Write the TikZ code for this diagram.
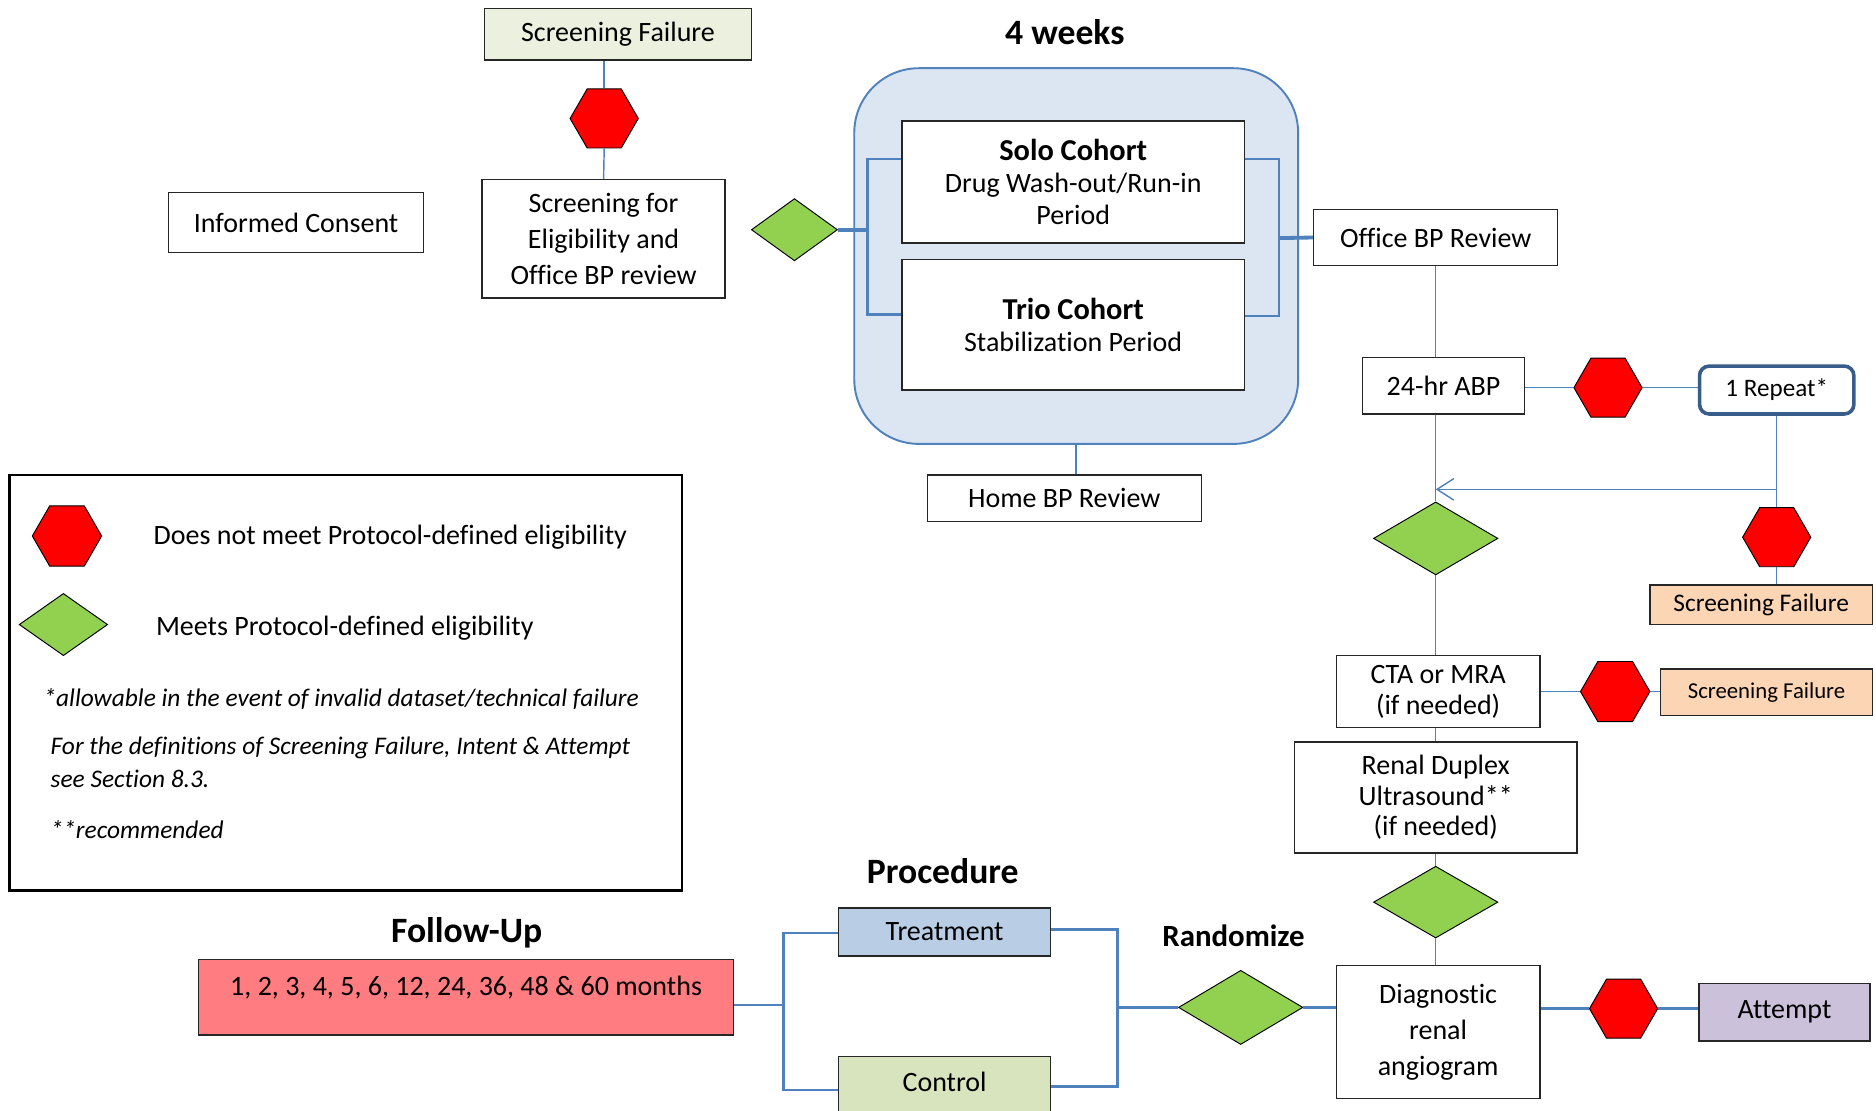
\documentclass[tikz,border=0pt]{standalone}
\usepackage{fontspec}
\setmainfont{Carlito}[Ligatures=NoCommon]
\usetikzlibrary{shapes.geometric,arrows.meta}
\definecolor{linkblue}{HTML}{4F81BD}
\definecolor{weekfill}{HTML}{DCE6F2}
\definecolor{repblue}{HTML}{385D8A}
\definecolor{hexred}{HTML}{FF0000}
\definecolor{okgreen}{HTML}{92D050}
\definecolor{sfgreen}{HTML}{EBF1DE}
\definecolor{sfpeach}{HTML}{FCD5B5}
\definecolor{attlilac}{HTML}{CCC1DA}
\definecolor{trtblue}{HTML}{B9CDE5}
\definecolor{ctlgreen}{HTML}{D7E4BD}
\definecolor{fupink}{HTML}{FF7C80}
\begin{document}
\begin{tikzpicture}[x=0.5pt,y=-0.5pt]
\tikzstyle{every node}+=[inner sep=0pt, font=\fontsize{11.7}{15}\selectfont]
\tikzstyle{box}=[draw=black!85, line width=0.6pt, fill=white, align=center]
\tikzstyle{stop}=[regular polygon, regular polygon sides=6, minimum size=28.5pt, draw=black, line width=0.4pt, fill=hexred]
\tikzstyle{pass}=[diamond, minimum width=52pt, minimum height=30.5pt, draw=black, line width=0.4pt, fill=okgreen]
\tikzstyle{title}=[font=\fontsize{14.9}{18}\selectfont\bfseries]
\tikzstyle{note}=[anchor=west, align=left, font=\fontsize{10.6}{14}\selectfont\itshape]
\tikzstyle{link}=[draw=linkblue, line width=0.6pt]
\tikzstyle{midlink}=[draw=linkblue, line width=1pt]
\tikzstyle{thicklink}=[draw=linkblue, line width=1.6pt]
\useasboundingbox (0,0) rectangle (1568,928);
% screening
\node[box, fill=sfgreen, minimum width=111.5pt, minimum height=21.5pt] (sf1) at (516.5,28.5) {Screening Failure};
\node[stop] (hex1) at (505,99) {};
\node[box, minimum width=101.5pt, minimum height=49.5pt] (scr) at (504.5,199.5) {Screening for\\Eligibility and\\Office BP review};
\node[box, minimum width=106.5pt, minimum height=25pt] (ic) at (247.5,186) {Informed Consent};
\node[pass, minimum width=36pt, minimum height=26pt] (dia1) at (664,192) {};
% 4 weeks
\node[title] (wktitle) at (890,27) {4 weeks};
\node[draw=linkblue, line width=0.8pt, fill=weekfill, rounded corners=27pt, minimum width=185.5pt, minimum height=157pt] (wk) at (899.5,214) {};
\node[box, minimum width=143pt, minimum height=51pt, font=\fontsize{11.7}{13.3}\selectfont] (solo) at (897,152) {{\fontsize{12.7}{13.3}\selectfont\bfseries Solo Cohort}\\Drug Wash-out/Run-in\\Period};
\node[box, minimum width=143pt, minimum height=54.5pt, font=\fontsize{11.7}{13.5}\selectfont] (trio) at (897,271.5) {{\fontsize{12.7}{13.5}\selectfont\bfseries Trio Cohort}\\Stabilization Period};
\node[box, minimum width=114.5pt, minimum height=19.5pt] (home) at (889.5,416.5) {Home BP Review};
% eligibility column
\node[box, minimum width=102pt, minimum height=23.5pt] (obp) at (1200,198.5) {Office BP Review};
\node[box, minimum width=67.5pt, minimum height=23.5pt] (abp) at (1206.5,322.5) {24-hr ABP};
\node[stop] (hex2) at (1344,324) {};
\node[draw=repblue, line width=1.5pt, fill=white, rounded corners=4pt, minimum width=64.5pt, minimum height=20pt, font=\fontsize{10.5}{13}\selectfont] (rep) at (1485,326) {1 Repeat*};
\node[stop] (hex3) at (1485,449) {};
\node[box, fill=sfpeach, minimum width=93pt, minimum height=16.5pt, font=\fontsize{10.6}{13}\selectfont] (sf2) at (1472,505.5) {Screening Failure};
\node[pass] (dia2) at (1200,450) {};
\node[box, minimum width=85pt, minimum height=30pt, font=\fontsize{11.7}{13}\selectfont] (cta) at (1202,578) {CTA or MRA\\(if needed)};
\node[stop, minimum size=29pt] (hex4) at (1350,578) {};
\node[box, fill=sfpeach, minimum width=88.5pt, minimum height=19.5pt, font=\fontsize{9.5}{12}\selectfont] (sf3) at (1476.5,578.5) {Screening Failure};
\node[box, minimum width=118pt, minimum height=46.5pt, font=\fontsize{11.7}{12.8}\selectfont] (ren) at (1200,666.5) {Renal Duplex\\Ultrasound**\\(if needed)};
\node[pass, minimum height=30pt] (dia3) at (1200,754) {};
\node[box, minimum width=85pt, minimum height=55.5pt] (diag) at (1202,862.5) {Diagnostic\\renal\\angiogram};
\node[stop] (hex5) at (1357,843) {};
\node[box, fill=attlilac, minimum width=71.5pt, minimum height=24pt] (att) at (1491.5,846) {Attempt};
% procedure and follow-up
\node[pass, minimum height=31pt] (dia4) at (1037,842) {};
\node[font=\fontsize{12.9}{15}\selectfont\bfseries] (randtitle) at (1031,782) {Randomize};
\node[title] (proctitle) at (788,728) {Procedure};
\node[box, fill=trtblue, minimum width=88.5pt, minimum height=20pt] (trt) at (789.5,779) {Treatment};
\node[box, fill=ctlgreen, minimum width=88.5pt, minimum height=26pt, text height=8pt, text depth=5.1pt] (ctl) at (789.5,909) {Control};
\node[title] (futitle) at (390,780) {Follow-Up};
\node[box, fill=fupink, minimum width=223.5pt, minimum height=31.5pt, text height=8pt, text depth=9.3pt] (fu) at (389.5,833.5) {1, 2, 3, 4, 5, 6, 12, 24, 36, 48 \& 60 months};
% legend
\node[draw=black, line width=1.2pt, minimum width=281pt, minimum height=173.5pt] (leg) at (289,570.5) {};
\node[stop, minimum size=29pt] (leghex) at (56,448) {};
\node[pass, minimum width=37pt, minimum height=26pt] (legdia) at (53,522) {};
\node[anchor=west] (legstop) at (128,449) {Does not meet Protocol-defined eligibility};
\node[anchor=west] (legpass) at (130,525) {Meets Protocol-defined eligibility};
\node[note] (note1) at (36,584) {*allowable in the event of invalid dataset/technical failure};
\node[note] (note2) at (42,637) {For the definitions of Screening Failure, Intent \& Attempt\\see Section 8.3.};
\node[note] (note3) at (42,693) {**recommended};
% connectors
\draw[link] (hex1.north) -- (hex1.north |- sf1.south);
\draw[link] (hex1.south) -- (scr.north);
\draw[thicklink] (dia1.east) -- (725,192);
\draw[midlink] (solo.west |- 0,133) -| (725,263) -- (trio.west |- 0,263);
\draw[midlink] (solo.east |- 0,133) -| (1069,264) -- (trio.east |- 0,264);
\draw[thicklink] (1069,199) -- (obp.west);
\draw[link] (wk.south) -- (wk.south |- home.north);
\draw[link] (obp.south) -- (obp.south |- abp.north);
\draw[link] (abp.east |- hex2.west) -- (hex2.west);
\draw[link] (hex2.east) -- (hex2.east -| rep.west);
\draw[link] (rep.south) -- (hex3.north);
\coordinate (back) at (1485,409);
\draw[link, -{Straight Barb[length=7pt,width=9pt]}] (back) -- (back -| dia2.north);
\draw[link] (hex3.south) -- (hex3.south |- sf2.north);
\draw[link] (abp.south -| dia2.north) -- (dia2.north);
\draw[link] (dia2.south) -- (dia2.south |- cta.north);
\draw[link] (cta.east |- hex4.west) -- (hex4.west);
\draw[link] (hex4.east) -- (hex4.east -| sf3.west);
\draw[link] (cta.south -| ren.north) -- (ren.north);
\draw[link] (ren.south) -- (dia3.north);
\draw[link] (dia3.south) -- (dia3.south |- diag.north);
\draw[midlink] (diag.east |- hex5.west) -- (hex5.west);
\draw[midlink] (hex5.east) -- (hex5.east -| att.west);
\draw[midlink] (dia4.east) -- (dia4.east -| diag.west);
\draw[midlink] (dia4.west) -- (934,842);
\draw[midlink] (trt.east |- 0,777) -| (934,908) -- (ctl.east |- 0,908);
\draw[midlink] (trt.west |- 0,780) -| (655,911) -- (ctl.west |- 0,911);
\draw[midlink] (fu.east |- 0,840) -- (655,840);
\end{tikzpicture}
\end{document}
